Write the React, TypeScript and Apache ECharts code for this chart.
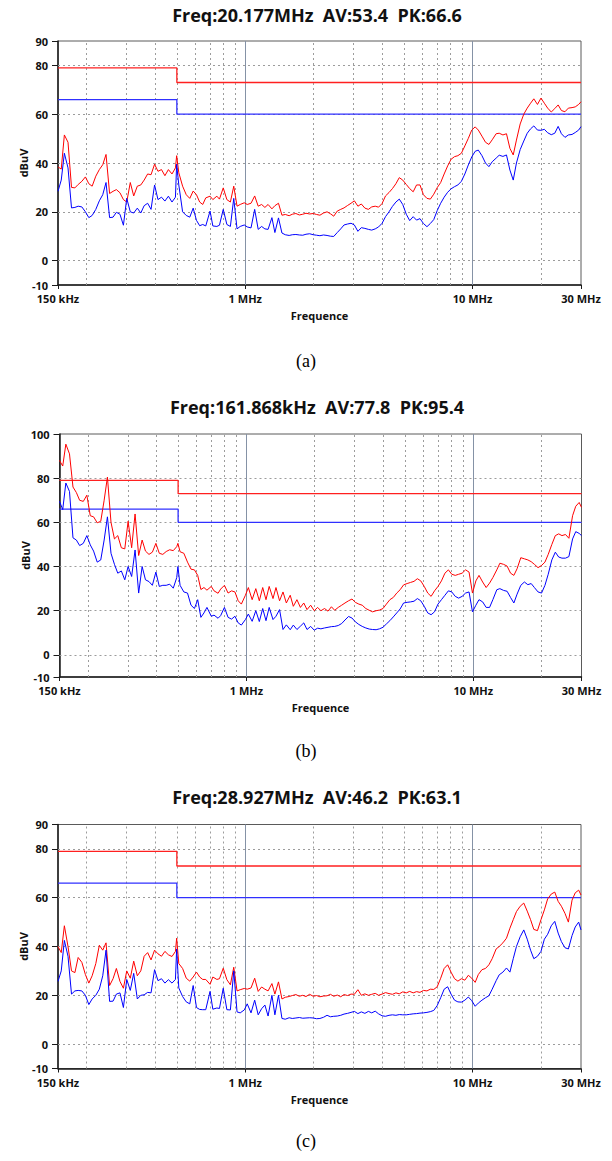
import React, { useEffect, useRef } from "react";
import * as echarts from "echarts";

// ---------------- DATA ----------------
// Shared frequency grid (MHz)
const FREQ_MHZ = [
  0.150, 0.155, 0.160, 0.166, 0.172, 0.178, 0.184, 0.191, 0.198, 0.205,
  0.212, 0.220, 0.228, 0.236, 0.244, 0.253, 0.262, 0.271, 0.281, 0.291,
  0.301, 0.312, 0.323, 0.335, 0.347, 0.359, 0.372, 0.385, 0.399, 0.413,
  0.428, 0.443, 0.459, 0.476, 0.493, 0.499, 0.510, 0.530, 0.550, 0.570,
  0.590, 0.610, 0.630, 0.650, 0.670, 0.700, 0.720, 0.750, 0.770, 0.800,
  0.830, 0.860, 0.890, 0.920, 0.950, 0.990, 1.02, 1.06, 1.10, 1.14,
  1.18, 1.22, 1.26, 1.31, 1.35, 1.40, 1.45, 1.50, 1.56, 1.61,
  1.67, 1.73, 1.79, 1.85, 1.92, 1.99, 2.06, 2.13, 2.21, 2.29,
  2.37, 2.45, 2.54, 2.63, 2.72, 2.82, 2.92, 3.02, 3.13, 3.24,
  3.36, 3.48, 3.60, 3.73, 3.86, 4.00, 4.14, 4.29, 4.44, 4.60,
  4.76, 4.93, 5.11, 5.29, 5.48, 5.67, 5.87, 6.08, 6.30, 6.52,
  6.75, 6.99, 7.24, 7.50, 7.77, 8.04, 8.33, 8.62, 8.93, 9.25,
  9.58, 9.92, 10.27, 10.6, 11.0, 11.4, 11.8, 12.2, 12.7, 13.1,
  13.6, 14.1, 14.6, 15.1, 15.6, 16.2, 16.8, 17.4, 18.0, 18.6,
  19.3, 20.0, 20.7, 21.4, 22.2, 23.0, 23.8, 24.6, 25.5, 26.4,
  27.4, 28.3, 29.3, 30.0,
];

// (a) peak (red) and average (blue), dBuV
const A_PK = [
  38.4, 37.5, 51.5, 48.5, 30.0, 29.8, 31.2, 32.5, 34.3, 31.5,
  30.5, 34.6, 37.3, 39.3, 43.5, 27.5, 28.4, 29.1, 27.8, 25.0,
  24.0, 32.0, 26.5, 30.5, 31.0, 33.0, 35.5, 35.2, 39.5, 36.6,
  37.3, 34.8, 37.3, 35.5, 38.0, 43.0, 36.0, 30.5, 27.0, 25.5,
  28.5, 27.0, 24.0, 23.0, 25.7, 26.4, 25.0, 26.4, 25.2, 29.8,
  25.0, 24.0, 30.5, 22.3, 23.0, 23.7, 23.0, 23.5, 26.5, 22.3,
  23.0, 21.8, 23.0, 21.2, 22.5, 23.5, 18.6, 18.9, 18.4, 19.0,
  19.3, 18.7, 19.0, 19.4, 19.1, 19.3, 18.9, 18.6, 19.5, 20.0,
  19.2, 18.2, 20.3, 21.0, 21.6, 22.6, 23.5, 24.5, 22.3, 23.2,
  21.5, 21.0, 22.0, 22.3, 21.9, 23.4, 26.5, 27.9, 29.5, 31.5,
  34.0, 33.0, 31.2, 29.5, 28.2, 31.0, 31.0, 27.0, 25.5, 25.2,
  27.2, 29.9, 32.0, 35.5, 38.8, 41.5, 42.6, 43.0, 44.0, 47.0,
  50.1, 53.5, 54.8, 53.5, 51.0, 48.5, 47.6, 49.5, 52.0, 52.2,
  51.5, 52.0, 46.0, 43.3, 49.4, 56.0, 60.0, 62.5, 64.5, 66.3,
  64.0, 66.6, 64.5, 62.5, 60.9, 62.3, 63.8, 61.5, 61.0, 62.5,
  62.7, 63.0, 64.0, 65.1,
];
const A_AV = [
  28.4, 33.0, 44.0, 38.0, 21.6, 21.8, 22.3, 22.0, 20.0, 17.6,
  18.5, 21.0, 24.5, 27.0, 32.0, 17.6, 17.8, 19.8, 19.0, 14.5,
  25.5, 20.0, 19.5, 21.5, 19.5, 22.5, 23.5, 21.0, 31.0, 25.0,
  26.0, 24.4, 26.4, 24.0, 26.0, 39.5, 31.0, 20.0, 18.5, 17.8,
  21.5, 16.5, 14.3, 14.8, 14.2, 20.3, 14.2, 14.0, 14.5, 21.0,
  14.8, 14.0, 25.5, 13.0, 14.0, 14.6, 13.8, 13.4, 21.0, 12.8,
  14.0, 13.0, 12.8, 17.6, 11.5, 17.5, 11.3, 10.6, 10.3, 10.6,
  10.7, 10.5, 10.4, 10.8, 11.0, 10.6, 10.4, 10.2, 10.5, 10.3,
  10.0, 9.9, 11.5, 13.0, 14.6, 15.0, 15.3, 14.6, 12.0, 13.5,
  13.2, 12.8, 12.5, 13.0, 13.8, 15.3, 18.0, 20.0, 22.2, 24.0,
  25.2, 23.0, 19.0, 16.4, 18.0, 16.6, 17.2, 15.2, 13.9, 15.2,
  16.8, 20.5, 23.5, 26.0, 28.0, 29.4, 30.3, 31.0, 32.5, 35.5,
  39.2, 42.5, 44.8, 45.3, 43.0, 40.0, 38.5, 40.5, 42.0, 43.2,
  42.7, 43.3, 37.1, 33.0, 40.0, 45.5, 49.0, 52.2, 54.0, 55.2,
  53.5, 53.4, 53.8, 52.4, 51.6, 52.2, 55.0, 52.0, 50.5, 51.5,
  51.7, 52.5, 53.5, 54.9,
];

// (b)
const B_PK = [
  88.0, 85.5, 95.4, 91.0, 76.0, 73.5, 70.0, 69.5, 72.3, 63.0,
  62.5, 59.8, 60.5, 70.0, 80.5, 60.0, 52.5, 54.0, 48.5, 48.0,
  60.5, 48.5, 63.8, 45.0, 52.0, 47.0, 45.5, 46.5, 50.5, 46.0,
  45.5, 46.8, 47.6, 47.2, 49.0, 50.5, 46.7, 46.0, 42.0, 38.8,
  38.5, 36.0, 29.6, 30.5, 29.3, 31.0, 29.0, 27.9, 29.8, 31.5,
  28.0, 29.0, 28.5, 24.5, 23.0, 27.0, 30.5, 25.0, 30.0, 24.5,
  30.5, 25.0, 31.0, 25.5, 30.5, 24.5, 28.5, 23.5, 27.0, 22.0,
  25.0, 21.5, 23.5, 20.5, 22.5, 20.0, 21.5, 20.0, 21.0, 19.8,
  21.8, 20.2, 21.5, 22.5, 23.5, 24.5, 25.3, 23.8, 23.0, 22.5,
  21.0, 20.2, 19.5, 20.0, 20.3, 21.0, 23.0, 25.0, 26.0, 28.0,
  29.5, 31.7, 32.3, 32.8, 33.3, 34.5, 33.5, 31.0, 28.0, 26.5,
  29.0, 31.0, 33.5, 37.0, 38.5, 36.5, 36.0, 36.5, 37.0, 38.5,
  37.5, 28.0, 33.5, 36.0, 33.0, 30.5, 32.5, 35.0, 38.5, 41.5,
  41.0, 40.2, 37.0, 36.0, 39.0, 44.0, 43.5, 43.0, 42.2, 41.0,
  39.5, 40.5, 42.0, 45.5, 50.0, 54.0, 54.8, 54.0, 54.5, 52.8,
  63.0, 67.3, 69.0, 66.8,
];
const B_AV = [
  69.5, 65.8, 77.8, 74.0, 53.0, 52.0, 49.5, 50.5, 54.0, 49.8,
  47.0, 42.0, 43.0, 52.0, 62.5, 46.0, 41.0, 37.0, 38.0, 34.0,
  40.0, 35.5, 47.5, 28.0, 40.0, 34.0, 33.2, 31.5, 37.5, 31.0,
  31.5, 31.5, 32.0, 30.2, 35.0, 40.0, 31.5, 28.5, 28.0, 22.5,
  21.0, 25.0, 17.0, 19.0, 21.5, 17.5, 18.0, 16.6, 17.8, 21.5,
  17.0, 16.2, 17.5, 14.5, 13.5, 16.0, 18.5, 15.2, 20.0, 15.1,
  21.0, 15.5, 21.5, 16.0, 17.5, 20.5, 11.5, 13.6, 11.4, 13.5,
  11.5, 13.0, 14.5, 11.5, 12.9, 11.2, 12.1, 11.8, 12.2, 12.5,
  12.8, 12.9, 13.3, 14.2, 15.8, 17.4, 16.7, 15.0, 13.8, 12.9,
  12.2, 11.7, 11.5, 11.4, 11.8, 12.5, 14.0, 15.5, 17.2, 19.0,
  20.8, 23.5, 23.8, 24.0, 24.3, 25.5, 24.5, 22.0, 19.0, 18.2,
  19.5, 23.0, 25.0, 27.0, 29.0, 28.5, 26.5, 25.7, 26.5, 28.0,
  28.5, 19.5, 22.5, 25.0, 24.0, 21.5, 21.5, 25.0, 29.5, 30.0,
  29.2, 28.8, 26.0, 23.5, 27.5, 31.5, 33.0, 31.8, 32.3, 30.5,
  28.5, 28.0, 31.5, 36.5, 43.0, 46.5, 44.3, 43.8, 43.8, 44.5,
  52.5, 55.8, 55.0, 54.0,
];

// (c)
const C_PK = [
  40.0, 37.5, 48.5, 40.0, 30.0, 29.3, 35.5, 33.5, 28.5, 25.0,
  28.0, 33.0, 40.5, 38.5, 41.5, 24.0, 26.8, 31.0, 25.7, 22.9,
  30.0, 27.0, 34.0, 28.0, 30.0, 36.0, 37.5, 34.5, 38.5, 37.0,
  36.0, 38.0, 36.6, 35.9, 38.0, 43.4, 33.0, 31.0, 27.0, 25.8,
  27.5, 29.5, 27.5, 26.5, 26.5, 24.5, 27.5, 26.5, 26.8, 31.1,
  26.4, 24.3, 31.5, 21.8, 22.3, 22.8, 22.5, 23.0, 27.0, 21.6,
  23.4, 22.5, 21.8, 24.8, 20.5, 25.5, 18.5, 19.2, 19.5, 19.9,
  20.3, 19.6, 20.0, 19.5, 20.4, 19.6, 19.9, 19.4, 19.7, 19.8,
  20.4, 19.6, 20.1, 19.4, 20.3, 19.9, 20.5, 20.4, 22.3, 20.0,
  20.6, 20.0, 20.4, 20.8, 20.0, 20.5, 21.1, 20.7, 20.4, 21.0,
  20.6, 21.4, 21.0, 21.6, 21.0, 21.5, 21.2, 22.0, 21.8, 22.5,
  22.4, 23.5, 27.0, 31.0, 32.5, 29.5, 26.8, 25.8, 26.8, 26.2,
  28.2, 27.0, 25.3, 28.5, 30.5, 31.0, 32.5, 35.0, 39.0, 40.0,
  41.5, 43.4, 47.5, 51.0, 54.3, 56.5, 57.8, 54.5, 51.0, 47.0,
  46.5, 51.0, 55.0, 59.5, 61.5, 62.3, 58.5, 56.5, 53.6, 50.0,
  59.0, 62.0, 63.1, 61.1,
];
const C_AV = [
  25.7, 30.0, 42.5, 36.0, 20.5, 21.8, 22.0, 21.8, 20.0, 16.2,
  18.5, 20.0, 22.5, 28.0, 38.5, 17.5, 17.6, 20.5, 21.0, 15.0,
  26.5, 22.0, 29.0, 18.5, 20.0, 20.2, 21.2, 21.0, 30.5, 26.0,
  26.8, 25.0, 26.4, 25.0, 26.5, 39.0, 23.0, 19.5, 17.3, 16.5,
  24.0, 15.0, 14.2, 14.1, 14.1, 21.6, 14.3, 14.8, 14.6, 22.9,
  14.1, 14.0, 30.0, 13.2, 12.8, 14.0, 16.5, 12.8, 18.0, 12.0,
  14.5, 16.0, 11.5, 20.0, 12.0, 20.0, 10.5, 10.2, 10.8, 10.5,
  10.7, 10.9, 10.6, 10.7, 10.8, 10.7, 10.4, 10.5, 11.0, 11.8,
  11.2, 11.4, 11.5, 11.8, 12.3, 12.6, 13.0, 13.4, 12.5, 13.2,
  12.6, 13.4, 12.8, 13.5, 12.4, 11.6, 11.4, 11.8, 12.0, 11.8,
  12.1, 12.0, 12.0, 12.2, 12.4, 12.5, 12.7, 12.8, 13.0, 13.3,
  13.8, 15.8, 19.0, 22.5, 23.5, 20.5, 18.0, 17.3, 17.2, 18.0,
  19.3, 17.8, 15.5, 16.8, 18.0, 19.0, 19.8, 22.5, 26.0, 28.4,
  29.5, 31.2, 29.5, 35.0, 40.0, 44.0, 46.8, 43.0, 38.5, 35.0,
  36.0, 38.0, 43.0, 45.0, 48.5, 50.3, 45.5, 42.0, 39.5, 39.0,
  44.5, 48.0, 50.0, 46.8,
];

// Limit lines (CISPR class A): quasi-peak (red) and average (blue)
const LIMIT_F = [0.15, 0.5, 0.5, 30];
const LIMIT_QP = [79, 79, 73, 73];
const LIMIT_AV = [66, 66, 60, 60];

const TITLES = [
  "Freq:20.177MHz  AV:53.4  PK:66.6",
  "Freq:161.868kHz  AV:77.8  PK:95.4",
  "Freq:28.927MHz  AV:46.2  PK:63.1",
];
const CAPTIONS = ["(a)", "(b)", "(c)"];
const Y_MIN = [-10, -10, -10];
const Y_MAX = [90, 100, 90];
const Y_TICKS = [
  [-10, 0, 20, 40, 60, 80, 90],
  [-10, 0, 20, 40, 60, 80, 100],
  [-10, 0, 20, 40, 60, 80, 90],
];
const X_TICKS = [0.15, 1, 10, 30];
const X_MINOR_GRID = [0.2, 0.3, 0.4, 0.5, 0.6, 0.7, 0.8, 0.9, 2, 3, 4, 5, 6, 7, 8, 9, 20];
const X_MAJOR_GRID = [1, 10];
const Y_GRID = [0, 20, 40, 60, 80];

const PK_SERIES = [A_PK, B_PK, C_PK];
const AV_SERIES = [A_AV, B_AV, C_AV];

// ---------------- LAYOUT ----------------
const PANELS = [
  { left: 58, top: 41, width: 523, height: 244, titleY: 15, capY: 361 },
  { left: 59.5, top: 434, width: 522, height: 243, titleY: 407, capY: 751 },
  { left: 58, top: 824.5, width: 523, height: 244, titleY: 797, capY: 1141 },
];
const FONT = '"Open Sans", "Noto Sans", sans-serif';

function pairs(xs: number[], ys: number[]) {
  const n = Math.min(xs.length, ys.length);
  const out: number[][] = [];
  for (let i = 0; i < n; i++) out.push([xs[i], ys[i]]);
  return out;
}

function fmtFreq(v: number) {
  if (v < 0.999) return Math.round(v * 1000) + " kHz";
  return Math.round(v) + " MHz";
}

export default function App() {
  const ref = useRef<HTMLDivElement>(null);

  useEffect(() => {
    if (!ref.current) return;
    const chart = echarts.init(ref.current, undefined, { renderer: "svg" });

    const axisText = { fontFamily: FONT, fontWeight: "bold" as const, fontSize: 11, color: "#111" };
    const dotted = { type: [2, 3] as any, color: "#9c9c9c", width: 1 };

    const grid = PANELS.map((p) => ({
      left: p.left,
      top: p.top,
      width: p.width,
      height: p.height,
      show: true,
      borderColor: "#5a5a5a",
      borderWidth: 1,
      backgroundColor: "transparent",
    }));

    const xAxis = PANELS.map((_, i) => ({
      gridIndex: i,
      type: "log",
      logBase: 10,
      min: 0.15,
      max: 30,
      axisLine: { show: true, onZero: false, lineStyle: { color: "#1a1a1a", width: 1.5 } },
      axisTick: { show: true, customValues: X_TICKS, length: 4, lineStyle: { color: "#1a1a1a" } },
      axisLabel: { show: true, customValues: X_TICKS, formatter: (v: number) => fmtFreq(v), margin: 8, ...axisText },
      splitLine: { show: false },
      minorTick: { show: false },
      minorSplitLine: { show: false },
      name: "Frequence",
      nameLocation: "middle",
      nameGap: 25,
      nameMoveOverlap: false,
      nameTextStyle: axisText,
    }));

    const yAxis = PANELS.map((_, i) => ({
      gridIndex: i,
      type: "value",
      min: Y_MIN[i],
      max: Y_MAX[i],
      axisLine: { show: true, onZero: false, lineStyle: { color: "#1a1a1a", width: 1.5 } },
      axisTick: { show: true, customValues: Y_TICKS[i], length: 6, lineStyle: { color: "#1a1a1a" } },
      axisLabel: { show: true, customValues: Y_TICKS[i], margin: 10, ...axisText },
      splitLine: { show: false },
      name: "dBuV",
      nameLocation: "middle",
      nameGap: 29,
      nameRotate: 90,
      nameMoveOverlap: false,
      nameTextStyle: axisText,
    }));

    const series: any[] = [];
    PANELS.forEach((_, i) => {
      series.push({
        type: "line",
        xAxisIndex: i,
        yAxisIndex: i,
        data: [],
        silent: true,
        z: 1,
        markLine: {
          silent: true,
          z: 1,
          symbol: ["none", "none"],
          label: { show: false },
          animation: false,
          data: [
            ...X_MINOR_GRID.map((v) => ({ xAxis: v, lineStyle: dotted })),
            ...Y_GRID.map((v) => ({ yAxis: v, lineStyle: dotted })),
            ...X_MAJOR_GRID.map((v) => ({ xAxis: v, lineStyle: { type: "solid", color: "#8592a6", width: 1 } })),
          ],
        },
      });
      series.push({
        type: "line",
        xAxisIndex: i,
        yAxisIndex: i,
        data: pairs(LIMIT_F, LIMIT_QP),
        symbol: "none",
        silent: true,
        z: 2,
        lineStyle: { color: "#ff2020", width: 1.3 },
      });
      series.push({
        type: "line",
        xAxisIndex: i,
        yAxisIndex: i,
        data: pairs(LIMIT_F, LIMIT_AV),
        symbol: "none",
        silent: true,
        z: 2,
        lineStyle: { color: "#3030ff", width: 1.3 },
      });
      series.push({
        type: "line",
        xAxisIndex: i,
        yAxisIndex: i,
        data: pairs(FREQ_MHZ, PK_SERIES[i]),
        symbol: "none",
        silent: true,
        z: 3,
        lineStyle: { color: "#ff0000", width: 1 },
      });
      series.push({
        type: "line",
        xAxisIndex: i,
        yAxisIndex: i,
        data: pairs(FREQ_MHZ, AV_SERIES[i]),
        symbol: "none",
        silent: true,
        z: 4,
        lineStyle: { color: "#0000ff", width: 1 },
      });
    });

    const graphic: any[] = [];
    PANELS.forEach((p, i) => {
      graphic.push({
        type: "text",
        x: 317,
        y: p.titleY,
        silent: true,
        style: {
          text: TITLES[i],
          fontFamily: FONT,
          fontWeight: "bold",
          fontSize: 18,
          fill: "#111",
          textAlign: "center",
          textVerticalAlign: "middle",
          align: "center",
          verticalAlign: "middle",
        },
      });
      graphic.push({
        type: "text",
        x: 306,
        y: p.capY,
        silent: true,
        style: {
          text: CAPTIONS[i],
          fontFamily: '"Liberation Serif", "Times New Roman", serif',
          fontSize: 18,
          fill: "#000",
          textAlign: "center",
          textVerticalAlign: "middle",
          align: "center",
          verticalAlign: "middle",
        },
      });
    });

    chart.setOption({
      animation: false,
      backgroundColor: "#ffffff",
      grid,
      xAxis,
      yAxis,
      series,
      graphic,
    } as any);

    return () => chart.dispose();
  }, []);

  return (
    <div
      ref={ref}
      style={{ position: "absolute", left: 0, top: 0, width: 612, height: 1161, background: "#fff" }}
    />
  );
}
